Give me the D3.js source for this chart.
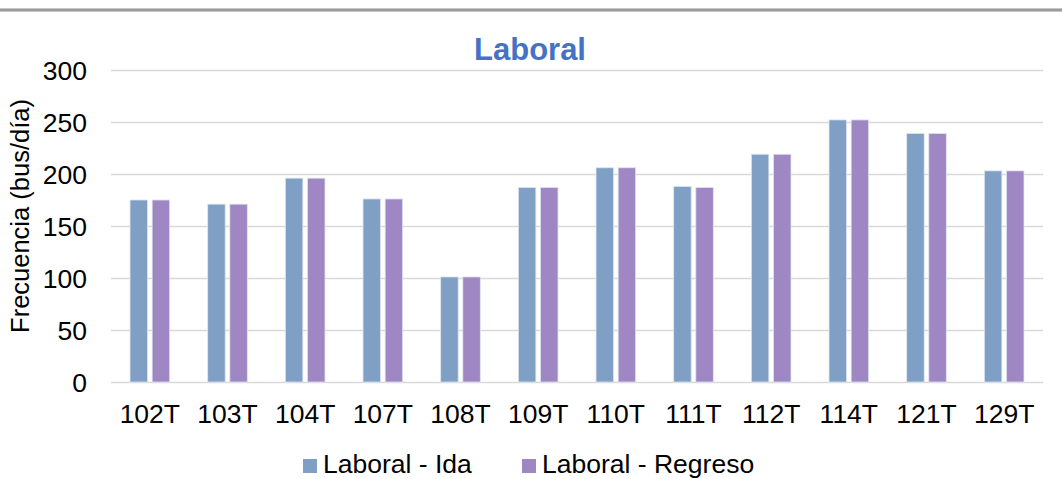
<!DOCTYPE html>
<html>
<head>
<meta charset="utf-8">
<script src="https://cdn.jsdelivr.net/npm/d3@7"></script>
<style>
  html, body { margin: 0; padding: 0; background: #fff; }
  svg { display: block; font-family: "Liberation Sans", Arial, sans-serif; }
</style>
</head>
<body>
<svg id="chart" width="1062" height="479"></svg>
<script>
const categories = ["102T","103T","104T","107T","108T","109T","110T","111T","112T","114T","121T","129T"];
const seriesNames = ["Laboral - Ida","Laboral - Regreso"];
const idaValues = [175,171,196,176,101,187,206,188,219,252,239,203];
const regresoValues = [175,171,196,176,101,187,206,187,219,252,239,203];
const yTicks = [0,50,100,150,200,250,300];
const colors = ["#7F9FC4","#9E87C2"];

const svg = d3.select("#chart");
const W = 1062, H = 479;
const margin = {left: 111, right: 19, top: 70, bottom: 97};
const plotW = W - margin.left - margin.right;
const plotH = H - margin.top - margin.bottom;
const FS = "26.5px";

// top separator line
svg.append("rect").attr("x",0).attr("y",8).attr("width",W).attr("height",4).attr("fill","#c8c8c8");
svg.append("rect").attr("x",0).attr("y",9).attr("width",W).attr("height",2).attr("fill","#9a9a9a");

const g = svg.append("g").attr("transform",`translate(${margin.left},${margin.top})`);

const y = d3.scaleLinear().domain([0,300]).range([plotH,0]);
const x0 = d3.scaleBand().domain(categories).range([0,plotW]).paddingInner(0.49).paddingOuter(0.245);
const x1 = d3.scaleBand().domain(seriesNames).range([0,x0.bandwidth()]).paddingInner(0.21);

// gridlines
const yAxis = d3.axisLeft(y).tickValues(yTicks).tickSize(-plotW).tickFormat(d3.format("d")).tickPadding(24);
const ga = g.append("g").call(yAxis);
ga.select(".domain").remove();
ga.selectAll(".tick line").attr("stroke","#d9d9d9").attr("stroke-width",1.5);
ga.selectAll(".tick text").attr("font-size",FS).attr("fill","#000").attr("dy","0.34em")
  .attr("font-family","'Liberation Sans', Arial, sans-serif");

// bars
const data = categories.map((c,i)=>({cat:c, vals:[idaValues[i], regresoValues[i]]}));
const grp = g.selectAll(".grp").data(data).enter().append("g")
  .attr("transform",d=>`translate(${x0(d.cat)},0)`);
grp.selectAll("rect").data(d=>d.vals.map((v,j)=>({name:seriesNames[j], v, j}))).enter().append("rect")
  .attr("x",d=>x1(d.name))
  .attr("y",d=>y(d.v))
  .attr("width",x1.bandwidth())
  .attr("height",d=>plotH - y(d.v))
  .attr("fill",d=>colors[d.j])
  .attr("stroke","#dde4ee")
  .attr("stroke-width",0.8);

// x axis labels
const xAxis = d3.axisBottom(x0).tickSize(0).tickPadding(22);
const gx = g.append("g").attr("transform",`translate(0,${plotH})`).call(xAxis);
gx.select(".domain").remove();
gx.selectAll(".tick text").attr("font-size",FS).attr("fill","#000")
  .attr("font-family","'Liberation Sans', Arial, sans-serif");

// title
svg.append("text").attr("x",530).attr("y",60).attr("text-anchor","middle")
  .attr("font-size","31px").attr("font-weight","bold").attr("fill","#4472C4").text("Laboral");

// y axis title
svg.append("text").attr("transform",`translate(29,${margin.top + 146}) rotate(-90)`)
  .attr("text-anchor","middle").attr("font-size","25.5px").attr("fill","#000")
  .text("Frecuencia (bus/día)");

// legend
const legendX = [303, 522];
seriesNames.forEach((n,i)=>{
  svg.append("rect").attr("x",legendX[i]).attr("y",459).attr("width",14).attr("height",14).attr("fill",colors[i]);
  svg.append("text").attr("x",legendX[i]+20).attr("y",473).attr("font-size",FS).attr("fill","#000").text(n);
});
</script>
</body>
</html>
